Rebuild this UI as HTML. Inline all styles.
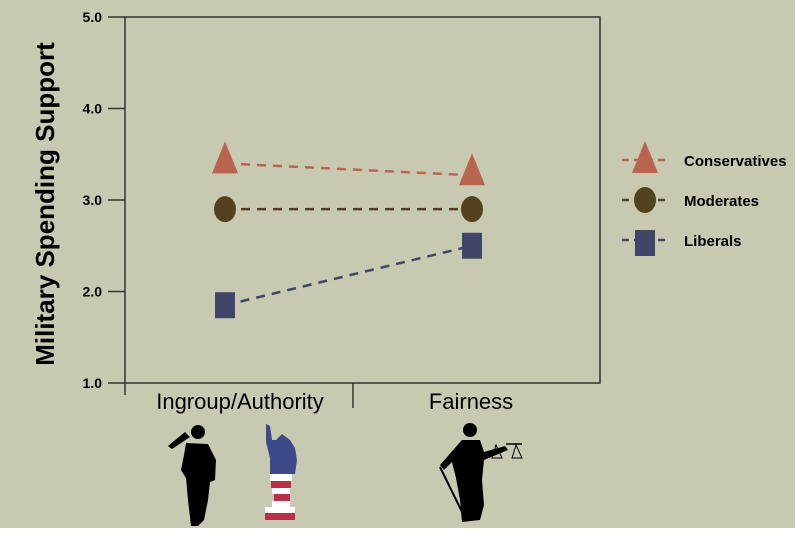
<!DOCTYPE html>
<html><head><meta charset="utf-8"><style>
body{margin:0;background:#fff;}
svg{display:block;font-family:"Liberation Sans",sans-serif;}
</style></head><body>
<svg id="chart" width="795" height="546">
<rect x="0" y="0" width="795" height="528" fill="#c7cab1"/>
<g id="axes"></g>
<g id="series"></g>
<g id="legend"></g>
<text transform="translate(54,204) rotate(-90)" text-anchor="middle" font-weight="bold" font-size="26" fill="#000">Military Spending Support</text>
<g fill="#000">
<circle cx="198" cy="432" r="7"/>
<path d="M190 437 L172 449 L168 446 L185 432 Z"/>
<path d="M186 443 L208 444 L216 460 L215 480 L210 482 L208 500 L204 520 L198 526 L191 526 L188 500 L186 478 L181 470 L184 455 Z"/>
</g>
<g>
<path d="M266 424 L270 426 L272 440 L276 440 L282 434 L290 440 L295 448 L297 460 L295 474 L286 474 L270 474 L270 458 L266 442 Z" fill="#3c4a8a"/>
<rect x="270" y="474" width="22" height="7" fill="#fff"/>
<rect x="271" y="481" width="20" height="7" fill="#b83247"/>
<rect x="272" y="488" width="18" height="6" fill="#fff"/>
<rect x="274" y="494" width="16" height="7" fill="#b83247"/>
<rect x="272" y="501" width="18" height="6" fill="#fff"/>
<rect x="265" y="507" width="30" height="6" fill="#fff"/>
<rect x="265" y="513" width="30" height="7" fill="#b83247"/>
</g>
<g fill="#000" stroke="#000">
<circle cx="470" cy="430" r="7" stroke="none"/>
<path d="M462 440 L480 440 L484 452 L505 446 L508 450 L484 460 L482 480 L484 505 L480 520 L462 522 L460 500 L456 478 L452 462 L444 470 L440 465 Z" stroke="none"/>
<line x1="440" y1="467" x2="466" y2="520" stroke-width="2"/>
<line x1="506" y1="444" x2="522" y2="444" stroke-width="1.5"/>
<path d="M496 445 L492 458 L502 458 Z M516 445 L512 458 L522 458 Z" fill="none" stroke-width="1"/>
</g>
</svg>
<script>
const categories = ["Ingroup/Authority", "Fairness"];
const seriesNames = ["Conservatives", "Moderates", "Liberals"];
const conservatives = [3.4, 3.27];
const moderates = [2.9, 2.9];
const liberals = [1.85, 2.5];
const yTicks = [1.0, 2.0, 3.0, 4.0, 5.0];
const yTickLabels = ["1.0", "2.0", "3.0", "4.0", "5.0"];

const NS = "http://www.w3.org/2000/svg";
const L = 125, R = 600, T = 17, B = 383;
const yMin = 1, yMax = 5;
function y(v){ return B - (v - yMin) / (yMax - yMin) * (B - T); }
function x(i){ return [225, 472][i]; }
function mk(tag, attrs, parent){ const e = document.createElementNS(NS, tag); for (const k in attrs) e.setAttribute(k, attrs[k]); parent.appendChild(e); return e; }

const ax = document.getElementById("axes");
const frame = mk("path", {d:`M${L} ${T} L${R} ${T} L${R} ${B} L${L} ${B} Z M${L} ${B} L${L} 395 M353 ${B} L353 408`, fill:"none", stroke:"#333", "stroke-width":1.5}, ax);


yTicks.forEach((v, i) => {
  const t = mk("line", {x1:108, x2:L, y1:y(v), y2:y(v), stroke:"#333", "stroke-width":1.5}, ax);
  
  
  const tl = mk("text", {x:102, y:y(v)+5, "text-anchor":"end", "font-size":14, "font-weight":"bold"}, ax);
  tl.textContent = yTickLabels[i];
  
  
});
categories.forEach((c, i) => {
  const t = mk("text", {x:[240, 471][i], y:409, "text-anchor":"middle", "font-size":22}, ax);
  t.textContent = c;
  
  
});

const colors = ["#b8644f", "#54411f", "#414668"];
const data = [conservatives, moderates, liberals];
const sg = document.getElementById("series");
function marker(kind, cx, cy, color, parent){
  let m;
  if (kind === 0) m = mk("path", {d:`M${cx} ${cy-22} L${cx+13} ${cy+10} L${cx-13} ${cy+10} Z`, fill:color}, parent);
  else if (kind === 1) m = mk("ellipse", {cx:cx, cy:cy, rx:11, ry:13, fill:color}, parent);
  else m = mk("rect", {x:cx-10, y:cy-13, width:20, height:26, fill:color}, parent);
  return m;
}
data.forEach((vals, s) => {
  const ln = mk("line", {x1:x(0), y1:y(vals[0]), x2:x(1), y2:y(vals[1]), stroke:colors[s], "stroke-width":2.5, "stroke-dasharray":"9,7"}, sg);
  
  
  vals.forEach((v, i) => {
    const m = marker(s, x(i), y(v), colors[s], sg);
    
    
  });
});

const lg = document.getElementById("legend");
seriesNames.forEach((n, s) => {
  const ly = 160 + s * 40;
  const g = mk("g", {}, lg);
  
  
  mk("line", {x1:622, x2:667, y1:ly, y2:ly, stroke:colors[s], "stroke-width":2.5, "stroke-dasharray":"7,5"}, g);
  marker(s, 645, s===0 ? ly+3 : ly+(s===2?3:0), colors[s], g);
  const t = mk("text", {x:684, y:ly+6, "font-size":15, "font-weight":"bold"}, g);
  t.textContent = n;
});
</script>
</body></html>
